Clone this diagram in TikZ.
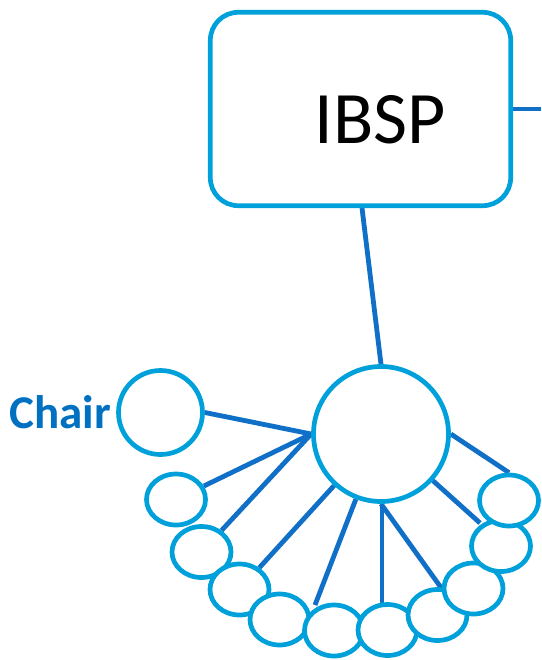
\documentclass[tikz,border=0pt]{standalone}
\usepackage{fontspec}
\setmainfont{Carlito}
\usetikzlibrary{shapes.geometric,backgrounds}
\definecolor{ringblue}{RGB}{0,160,218}
\definecolor{linkblue}{RGB}{16,112,200}
\definecolor{labelblue}{RGB}{0,112,192}
\begin{document}
\begin{tikzpicture}[x=1pt,y=-1pt,
  ring/.style={draw=ringblue,line width=4.7pt,fill=white,inner sep=0pt},
  smallring/.style={ring,ellipse,minimum width=59pt,minimum height=51pt},
  link/.style={draw=linkblue,line width=4.8pt}]
\useasboundingbox (0,0) rectangle (541,660);
% IBSP box
\node[ring,rectangle,rounded corners=28pt,minimum width=300.4pt,minimum height=193.4pt] (ibsp) at (360.5,109) {};
\node[anchor=base,inner sep=0pt,font=\fontsize{74}{80}\selectfont] (ibsptext) at (380,143.3) {IBSP};
% hub and chair
\node[ring,circle,minimum size=135pt] (hub) at (381,434) {};
\node[ring,circle,minimum size=84pt] (chair) at (160.5,412.5) {};
\node[anchor=base east,inner sep=0pt,text=labelblue,font=\fontsize{47}{52}\selectfont\bfseries] (chairlabel) at (111,428.3) {Chair};
% members
\node[smallring] (e1) at (176,499.5) {};
\node[smallring] (e2) at (201.5,552) {};
\node[smallring] (e3) at (239.5,589.5) {};
\node[smallring] (e4) at (279.5,619.5) {};
\node[smallring] (e5) at (334,630.5) {};
\node[smallring] (e6) at (387.5,630) {};
\node[smallring] (e7) at (437.5,615) {};
\node[smallring] (e8) at (473.5,588.5) {};
\node[smallring] (e9) at (501,546) {};
\node[smallring] (e10) at (509,500.5) {};
\coordinate (offright) at (541,109);
\coordinate (c5) at (315,605);
\coordinate (c6) at (382,603);
\coordinate (c9) at (480,523);
\begin{scope}[on background layer]
\draw[link] ([xshift=1.5pt]ibsp.south) -- (hub.north);
\draw[link] (ibsp.east) -- (offright);
\draw[link] (chair.east) -- (hub.west);
\draw[link] (e1) -- (hub.west);
\draw[link] (e2) -- (hub.west);
\draw[link] (e3) -- (hub);
\draw[link] (c5) -- (hub);
\draw[link] (hub.south -| c6) -- (c6);
\draw[link] (hub.south) -- (e8.west);
\draw[link] (c9) -- (hub);
\draw[link] (hub.east) -- (e10.north);
\end{scope}
\end{tikzpicture}
\end{document}
